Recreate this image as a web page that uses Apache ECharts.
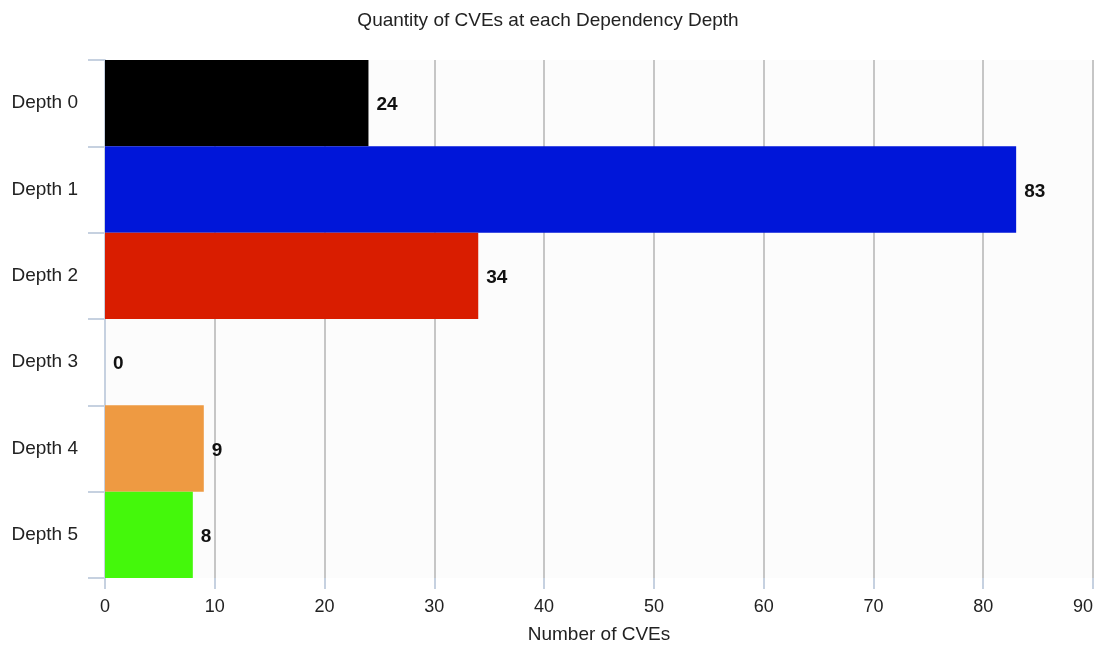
<!DOCTYPE html>
<html>
<head>
<meta charset="utf-8">
<script src="https://cdn.jsdelivr.net/npm/echarts@6/dist/echarts.min.js"></script>
<style>
  html, body { margin: 0; padding: 0; background: #ffffff; overflow: hidden; }
  #chart { width: 1096px; height: 645px; }
</style>
</head>
<body>
<div id="chart"></div>
<script>
// CVE counts per dependency depth
const categories = ['Depth 0', 'Depth 1', 'Depth 2', 'Depth 3', 'Depth 4', 'Depth 5'];
const cveCounts = [24, 83, 34, 0, 9, 8];
const barColors = ['#000000', '#0016d9', '#d91d00', '#ffffff', '#ee9a42', '#44f80b'];
const xTicks = [0, 10, 20, 30, 40, 50, 60, 70, 80, 90];

const FONT = '"Liberation Sans", Arial, sans-serif';
const axisBlue = '#c6d1e0';

const chart = echarts.init(document.getElementById('chart'), null, { renderer: 'canvas' });

chart.setOption({
  animation: false,
  backgroundColor: '#ffffff',
  textStyle: { fontFamily: FONT },
  title: {
    text: 'Quantity of CVEs at each Dependency Depth',
    left: 'center',
    top: 6,
    textStyle: { fontFamily: FONT, fontSize: 19, fontWeight: 'normal', color: '#222222' }
  },
  grid: {
    left: 105,
    right: 3,
    top: 60,
    bottom: 67,
    containLabel: false,
    outerBoundsMode: 'none',
    show: true,
    backgroundColor: '#fcfcfc',
    borderWidth: 0
  },
  xAxis: {
    type: 'value',
    min: xTicks[0],
    max: xTicks[xTicks.length - 1],
    interval: 10,
    name: 'Number of CVEs',
    nameLocation: 'middle',
    nameGap: 47,
    nameTextStyle: { fontFamily: FONT, fontSize: 19, color: '#222222' },
    axisLine: { show: false },
    axisTick: { show: true, length: 11, lineStyle: { color: axisBlue, width: 2 } },
    axisLabel: {
      fontFamily: FONT, fontSize: 18, color: '#222222', margin: 20,
      hideOverlap: false, alignMaxLabel: 'right'
    },
    splitLine: { show: true, lineStyle: { color: '#c6c6c6', width: 2 } }
  },
  yAxis: {
    type: 'category',
    data: categories,
    inverse: true,
    axisLine: { show: true, lineStyle: { color: axisBlue, width: 2 } },
    axisTick: { show: true, length: 17, lineStyle: { color: axisBlue, width: 2 } },
    axisLabel: { fontFamily: FONT, fontSize: 19, color: '#222222', margin: 27, padding: [8, 0, 0, 0] },
    splitLine: { show: false }
  },
  series: [{
    type: 'bar',
    data: cveCounts.map((v, i) => ({ value: v, itemStyle: { color: barColors[i] } })),
    barCategoryGap: '0%',
    label: {
      show: true,
      position: 'right',
      distance: 8,
      offset: [0, 2],
      fontFamily: FONT,
      fontSize: 19,
      fontWeight: 'bold',
      color: '#111111'
    }
  }]
});
</script>
</body>
</html>
